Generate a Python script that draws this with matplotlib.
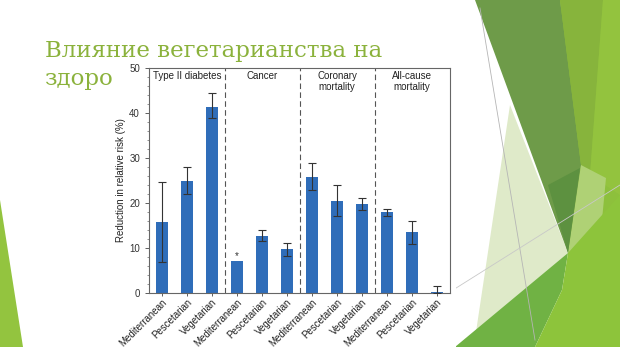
import numpy as np
import matplotlib.pyplot as plt
from matplotlib.patches import Polygon, Rectangle
from matplotlib.ticker import MultipleLocator

# Data
diets = ['Mediterranean', 'Pescetarian', 'Vegetarian']
outcomes = ['Type II diabetes', 'Cancer', 'Coronary\nmortality', 'All-cause\nmortality']
values = [15.7, 25.0, 41.4,
          7.2, 12.6, 9.8,
          25.8, 20.4, 19.8,
          17.9, 13.5, 0.15]
err_low = [7.0, 21.9, 38.8,
           7.2, 11.5, 8.3,
           23.0, 17.2, 18.5,
           17.2, 11.0, 0.0]
err_high = [24.6, 28.1, 44.4,
            7.2, 13.9, 11.1,
            28.8, 23.9, 21.1,
            18.7, 16.1, 1.6]
star_at = 8.3
title_lines = ['Влияние вегетарианства на', 'здоровье']

W, H = 620, 347
fig = plt.figure(figsize=(W / 100, H / 100), dpi=100)

# slide background (pixel coords)
bg = fig.add_axes([0, 0, 1, 1])
bg.set_xlim(0, W)
bg.set_ylim(H, 0)
bg.axis('off')

def poly(pts, c, z=1):
    bg.add_patch(Polygon(pts, closed=True, facecolor=c, edgecolor='none', zorder=z))

poly([(0, 200), (23, 347), (0, 347)], '#93C43F')
poly([(560, 0), (620, 0), (620, 347), (568, 253)], '#8DC03C', 1)
poly([(510, 105), (568, 253), (540, 290), (476, 332)], '#DFEAC9', 1)
poly([(475, 0), (560, 0), (581, 165), (568, 253)], '#6E9B49', 2)
poly([(548, 185), (580, 168), (568, 253)], '#5D9140', 3)
poly([(560, 0), (603, 0), (590, 175), (581, 165)], '#87B43C', 2)
poly([(603, 0), (620, 0), (620, 195), (590, 175)], '#93C33E', 2)
poly([(581, 165), (606, 178), (598, 262), (568, 253)], '#AFD175', 2)
poly([(455, 347), (568, 253), (562, 290), (535, 347)], '#70B244', 4)
poly([(535, 347), (562, 290), (568, 253), (620, 195), (620, 347)], '#8DC43B', 4)
bg.plot([480, 535], [8, 340], color='#B5B5B5', lw=0.6, zorder=5)
bg.plot([445, 295 and 445, 620][0:1] + [620], [295, 185], color='#C8C8C8', lw=0.6, zorder=5)

for i, line in enumerate(title_lines):
    bg.text(45, 57 + 28 * i, line, color='#8BB23C', fontsize=16.5, family='DejaVu Serif',
            va='baseline', ha='left', zorder=6)
# the chart picture covers the second title line
bg.add_patch(Rectangle((113, 63), 343, 284, facecolor='white', edgecolor='none', zorder=7))

# chart
plt.rcParams['font.family'] = ['Liberation Sans', 'DejaVu Sans']
ax = fig.add_axes([149 / W, 1 - 293 / H, 301 / W, 225 / H])
ax.set_zorder(2)

x = np.arange(len(values))
vals = np.array(values)
yerr = np.array([vals - np.array(err_low), np.array(err_high) - vals])
has_err = np.array(err_high) > np.array(err_low)

ax.bar(x, vals, width=0.5, color='#2F6DB9', zorder=2)
ax.errorbar(x[has_err], vals[has_err], yerr=yerr[:, has_err], fmt='none',
            ecolor='#333333', elinewidth=0.8, capsize=3, capthick=0.8, zorder=3)
ax.text(3, star_at, '*', ha='center', va='center', fontsize=7, color='#333333')

for b in [2.5, 5.5, 8.5]:
    ax.axvline(b, color='#555555', lw=0.8, dashes=(5, 3))
for i, o in enumerate(outcomes):
    ax.text(3 * i + 1, 49.4, o, ha='center', va='top', fontsize=7, color='#222222',
            linespacing=1.2)

ax.set_xlim(-0.52, 11.52)
ax.set_ylim(0, 50)
ax.set_xticks(x)
ax.set_xticklabels(diets * 4, rotation=45, ha='right', rotation_mode='anchor',
                   fontsize=7, color='#222222')
ax.yaxis.set_major_locator(MultipleLocator(10))
ax.yaxis.set_minor_locator(MultipleLocator(2))
ax.tick_params(axis='y', labelsize=7, colors='#444444', labelcolor='#333333',
               length=3, width=0.6)
ax.tick_params(axis='y', which='minor', length=1.5, width=0.5, colors='#666666')
ax.tick_params(axis='x', length=2, width=0.6, colors='#444444', labelcolor='#222222', pad=1)
ax.set_ylabel('Reduction in relative risk (%)', fontsize=7, color='#222222', labelpad=2)
for s in ax.spines.values():
    s.set_color('#666666')
    s.set_linewidth(0.8)

fig.savefig('out.png', dpi=100)
